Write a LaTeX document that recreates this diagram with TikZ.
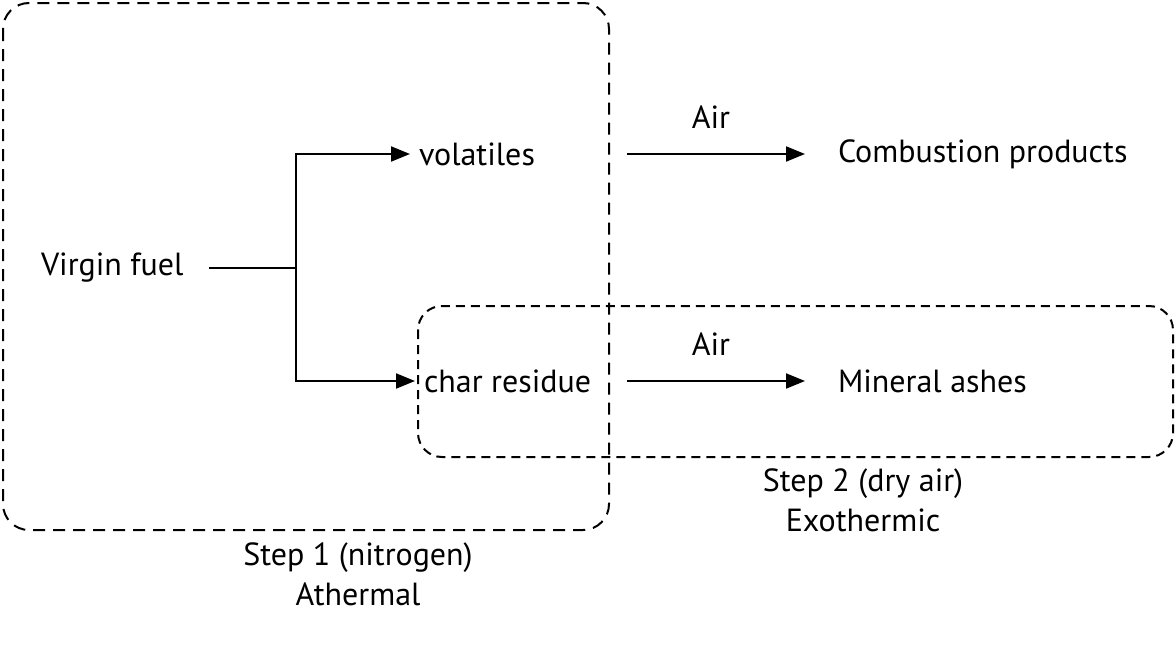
\documentclass[tikz,border=0pt]{standalone}
\usepackage{fontspec}
\setmainfont{PT Sans}
\usetikzlibrary{arrows.meta}

\begin{document}
\begin{tikzpicture}[x=0.5pt, y=-0.5pt,
		>={Triangle[length=9.5pt, width=7.5pt]},
		line width=1pt,
		every node/.style={font=\fontsize{16}{20}\selectfont},
		txt/.style={anchor=west, inner sep=0pt},
		flow/.style={->, shorten >=4pt},
		stepbox/.style={dashed, dash pattern=on 6pt off 4pt, rounded corners=13pt},
		stepbox2/.style={dashed, dash pattern=on 4.5pt off 3pt, rounded corners=12pt}
	]
	\useasboundingbox (0,0) rectangle (1176,648);

	% step boxes
	\draw[stepbox] (3,3) rectangle (609,530);
	\draw[stepbox2] (418,306) rectangle (1173,457);

	\node[txt] (fuel) at (40,268) {Virgin fuel};
	\node[txt] (vol) at (418,154) {volatiles};
	\node[txt] (char) at (423,381) {char residue};
	\node[txt] (comb) at (837,154) {Combustion products};
	\node[txt] (ash) at (837,381) {Mineral ashes};

	\coordinate (j) at (296,268);
	\coordinate (a1) at (627,154);
	\coordinate (a2) at (627,381);

	\draw (fuel.east) ++(25,0) -- (j);
	\draw[flow] (j) |- (vol.west);
	\draw[flow] (j) |- (char.west);

	\draw[->, shorten >=16pt] (a1) -- (comb.west)
	node[pos=0.4, above=9pt] {Air};
	\draw[->, shorten >=16pt] (a2) -- (ash.west)
	node[pos=0.4, above=9pt] {Air};

	\node[align=center] (s1) at (358,574) {Step 1 (nitrogen)\\Athermal};
	\node[align=center] (s2) at (863,500) {Step 2 (dry air)\\Exothermic};
\end{tikzpicture}
\end{document}
